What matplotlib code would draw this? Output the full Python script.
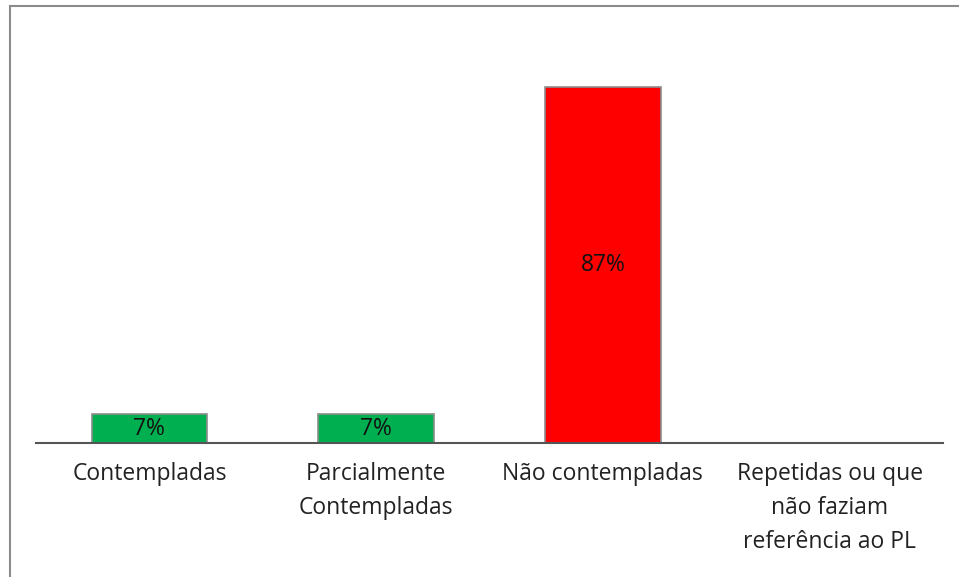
import matplotlib.pyplot as plt
from matplotlib.lines import Line2D

categories = ['Contempladas', 'Parcialmente\nContempladas', 'Não contempladas',
              'Repetidas ou que\nnão faziam\nreferência ao PL']
values = [7, 7, 87, 0]
labels = ['7%', '7%', '87%', '']
colors = ['#00B050', '#00B050', '#FF0000', '#00B050']

plt.rcParams['font.family'] = ['Open Sans', 'DejaVu Sans']

fig = plt.figure(figsize=(9.59, 5.77), dpi=100)
ax = fig.add_axes([36 / 959, (577 - 443) / 577, (943 - 36) / 959, (443 - 34) / 577])

x = range(len(categories))
bars = ax.bar(x, values, width=0.51, color=colors, edgecolor='#8c8c8c', linewidth=1.2, zorder=2)

for bar, lab, v in zip(bars, labels, values):
    if not lab:
        continue
    ax.text(bar.get_x() + bar.get_width() / 2, v / 2, lab, ha='center', va='center',
            fontsize=16.5, color='#111111', zorder=3)

ax.set_xlim(-0.5, len(categories) - 0.5)
ax.set_ylim(0, 100)
ax.set_xticks(list(x))
ax.set_xticklabels(categories, fontsize=16.5, color='#222222', linespacing=1.55, va='top')
ax.tick_params(axis='x', length=0, pad=14)
ax.set_yticks([])
for s in ['top', 'right', 'left']:
    ax.spines[s].set_visible(False)
ax.spines['bottom'].set_color('#555555')
ax.spines['bottom'].set_linewidth(1.5)
ax.spines['bottom'].set_zorder(4)

# outer frame lines (top and left)
fig.add_artist(Line2D([9.5 / 959, 1], [1 - 5.5 / 577, 1 - 5.5 / 577], color='#8c8c8c', lw=1.5,
                      transform=fig.transFigure))
fig.add_artist(Line2D([9.5 / 959, 9.5 / 959], [0, 1 - 5.5 / 577], color='#8c8c8c', lw=1.5,
                      transform=fig.transFigure))

fig.savefig('out.png', dpi=100)
